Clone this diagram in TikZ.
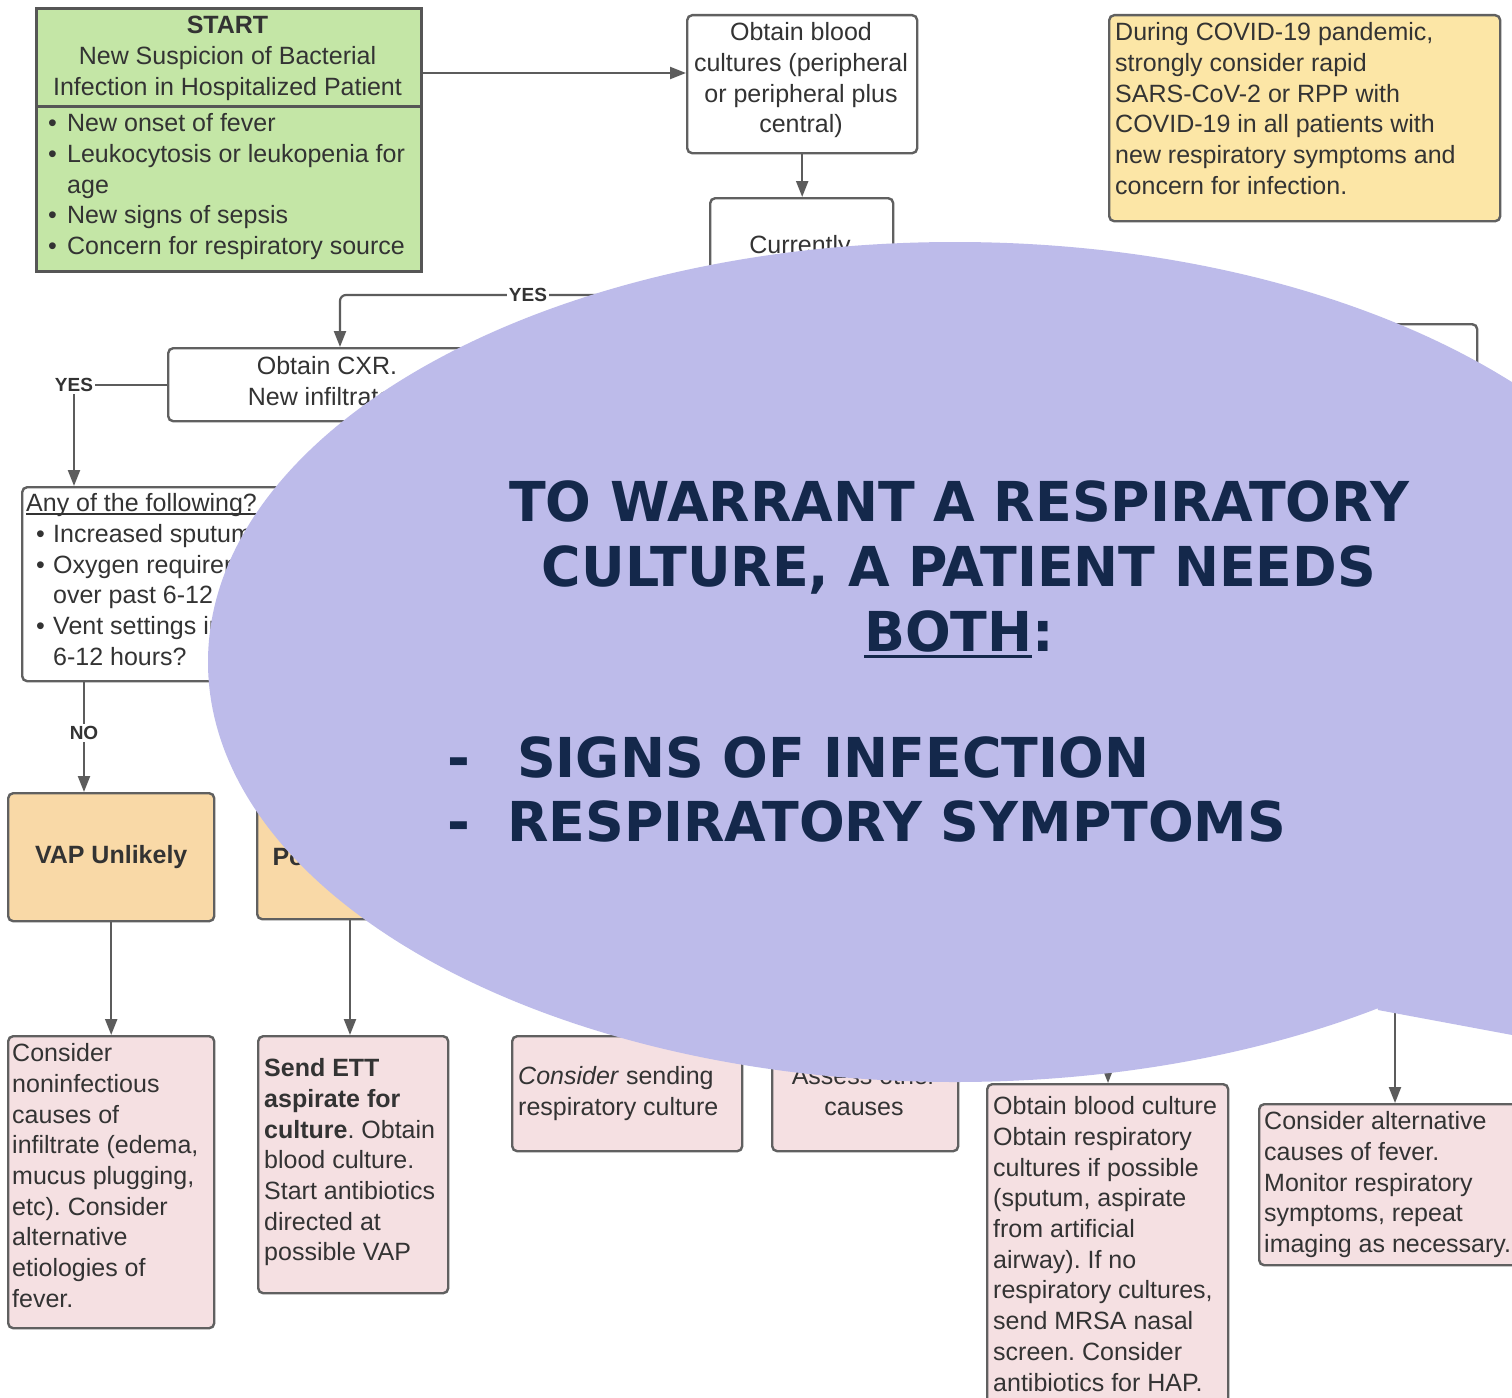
\documentclass[tikz,border=0pt]{standalone}
\usepackage{fontspec}
\setmainfont{Liberation Sans}
\newfontfamily\bubblefont{DejaVu Sans}
\usetikzlibrary{arrows.meta}
\definecolor{bordc}{HTML}{606060}
\definecolor{arrowc}{HTML}{5C5C5C}
\definecolor{txtc}{HTML}{333333}
\definecolor{greenfill}{HTML}{C4E6A6}
\definecolor{yellowfill}{HTML}{FCE6A6}
\definecolor{orangefill}{HTML}{F9D9A7}
\definecolor{pinkfill}{HTML}{F5E0E2}
\definecolor{bubblec}{HTML}{BDBBEA}
\definecolor{navyc}{HTML}{14284B}
\newcommand\myuline[3]{\setbox0\hbox{#3}\rlap{\rule[-#1]{\wd0}{#2}}\box0}
\newcommand\bulA{\makebox[19pt][l]{\textbullet}}
\newcommand\bulB{\makebox[17pt][l]{\textbullet}}
\newcommand\bsq[1]{\scalebox{0.978}[1]{#1}}
\frenchspacing
\begin{document}
\begin{tikzpicture}[x=1pt,y=-1pt,
  boxline/.style={draw=bordc, line width=2.4pt, rounded corners=5pt, inner sep=0pt, anchor=north west},
  body/.style={font=\fontsize{25}{30.7}\selectfont, text=txtc, inner sep=0pt, align=left, anchor=north west},
  bodyc/.style={body, align=center, anchor=north},
  bigbold/.style={font=\bfseries\fontsize{25}{30}\selectfont, text=txtc, inner sep=0pt},
  flow/.style={draw=arrowc, line width=2.2pt, -{Triangle[length=16pt,width=12pt]}},
  lbl/.style={font=\bfseries\fontsize{19}{19}\selectfont, text=txtc, fill=white, inner sep=2pt},
  bubtxt/.style={font=\bubblefont\bfseries\fontsize{55}{65}\selectfont, text=navyc, inner sep=0pt, anchor=base}
]
\useasboundingbox (0,0) rectangle (1512,1397);
\clip (0,0) rectangle (1512,1397);
\fill[white] (0,0) rectangle (1512,1397);

% ---------- boxes ----------
\node[boxline, rounded corners=0pt, draw=bordc!90!black, line width=3pt, fill=greenfill, minimum width=385pt, minimum height=263pt] (start) at (35,7) {};
\draw[draw=bordc!90!black, line width=3pt] (start.west |- 0,106) -- (start.east |- 0,106);
\node[boxline, fill=white, minimum width=230pt, minimum height=138pt] (blood) at (686,14) {};
\node[boxline, fill=yellowfill, minimum width=391pt, minimum height=206pt] (covid) at (1108,14) {};
\node[boxline, fill=white, minimum width=183pt, minimum height=148pt] (curr) at (709,197) {};
\node[boxline, fill=white, minimum width=320pt, minimum height=73pt] (cxr) at (167,347) {};
\node[boxline, fill=white, minimum width=186pt, minimum height=107pt] (rbox) at (1290,323) {};
\node[boxline, fill=white, minimum width=379pt, minimum height=194pt] (any) at (21,486) {};
\node[boxline, fill=orangefill, minimum width=206pt, minimum height=128pt] (vap) at (7,792) {};
\node[boxline, fill=orangefill, minimum width=190pt, minimum height=126pt] (pos) at (256,792) {};
\node[boxline, fill=pinkfill, minimum width=206pt, minimum height=292pt] (cons) at (7,1035) {};
\node[boxline, fill=pinkfill, minimum width=190pt, minimum height=257pt] (ett) at (257,1035) {};
\node[boxline, fill=pinkfill, minimum width=230pt, minimum height=115pt] (csend) at (511,1035) {};
\node[boxline, fill=pinkfill, minimum width=186pt, minimum height=115pt] (assess) at (771,1035) {};
\node[boxline, fill=pinkfill, minimum width=241pt, minimum height=340pt] (obc) at (986,1083) {};
\node[boxline, fill=pinkfill, minimum width=280pt, minimum height=161pt] (calt) at (1258,1103) {};

% ---------- texts ----------
\node[bodyc] (starthd) at (227.5,12) {\strut\textbf{START}\\New Suspicion of Bacterial\\Infection in Hospitalized Patient};
\node[body] (startbl) at (48,110) {\strut\bulA New onset of fever\\\bulA Leukocytosis or leukopenia for\\\hspace*{19pt}age\\\bulA New signs of sepsis\\\bulA Concern for respiratory source};
\node[bodyc] (bloodtx) at (801,19) {\strut Obtain blood\\cultures (peripheral\\or peripheral plus\\central)};
\node[body] (covtx) at (1115,19) {\strut During COVID-19 pandemic,\\strongly consider rapid\\SARS-CoV-2 or RPP with\\COVID-19 in all patients with\\new respiratory symptoms and\\concern for infection.};
\node[bodyc] (currtx) at (800,232) {\strut Currently};
\node[bodyc] (cxrtx) at (327,353) {\strut Obtain CXR.\\New infiltrate?};
\node[body] (anytx) at (26,490) {\strut\myuline{3pt}{1.5pt}{Any of the following?}\\\hspace*{10pt}\bulB Increased sputum production\\\hspace*{10pt}\bulB Oxygen requirement increased\\\hspace*{27pt}over past 6-12 hours\\\hspace*{10pt}\bulB Vent settings increased over past\\\hspace*{27pt}6-12 hours?};
\node[bigbold] (vaptx) at (vap.center) {VAP Unlikely};
\node[bigbold] (postx) at (pos.center) {Possible VAP};
\node[body] (constx) at (12,1040) {\strut Consider\\noninfectious\\causes of\\infiltrate (edema,\\mucus plugging,\\etc). Consider\\alternative\\etiologies of\\fever.};
\node[body] (etttx) at (264,1055) {\strut\textbf{Send ETT}\\\textbf{aspirate for}\\\textbf{culture}. Obtain\\blood culture.\\Start antibiotics\\directed at\\possible VAP};
\node[body] (csendtx) at (518,1063) {\strut\textit{Consider} sending\\respiratory culture};
\node[bodyc] (assesstx) at (864,1063) {\strut Assess other\\causes};
\node[body] (obctx) at (993,1093) {\strut Obtain blood culture\\Obtain respiratory\\cultures if possible\\(sputum, aspirate\\from artificial\\airway). If no\\respiratory cultures,\\send MRSA nasal\\screen. Consider\\antibiotics for HAP.};
\node[body] (calttx) at (1264,1108) {\strut Consider alternative\\causes of fever.\\Monitor respiratory\\symptoms, repeat\\imaging as necessary.};

% ---------- connectors ----------
\coordinate (a1) at (420,73);
\coordinate (yes1) at (340,295);
\coordinate (yes2) at (74,385);
\coordinate (no1) at (84,733);
\coordinate (h1) at (1108,1000);
\coordinate (h2) at (1395,960);
\draw[flow] (start.east |- a1) -- (blood.west |- a1);
\draw[flow] (blood.south) -- (curr.north -| blood.south);
\draw[flow, rounded corners=6pt] (curr.west |- yes1) -| (cxr.north -| yes1);
\node[lbl] (yeslbl1) at (528,295) {YES};
\draw[flow] (cxr.west) -| (any.north -| yes2);
\node[lbl] (yeslbl2) at (yes2) {YES};
\draw[flow] (any.south -| no1) -- (vap.north -| no1);
\node[lbl] (nolbl) at (no1) {NO};
\draw[flow] (vap.south) -- (cons.north);
\draw[flow] (pos.south -| 350,0) -- (ett.north -| 350,0);
\draw[flow] (h1) -- (obc.north -| h1);
\draw[flow] (h2) -- (calt.north -| h2);

% ---------- speech bubble ----------
\fill[bubblec] (955,662) ellipse [x radius=747, y radius=420];
\fill[bubblec] (1300,662) -- (1378,1010) -- (1700,1070) -- (1700,662) -- cycle;

\node[bubtxt] (b1) at (959,521) {\bsq{TO WARRANT A RESPIRATORY}};
\node[bubtxt] (b2) at (959,586) {\bsq{CULTURE, A PATIENT NEEDS}};
\node[bubtxt] (b3) at (959,651) {\bsq{\myuline{7pt}{3pt}{BOTH}:}};
\node[bubtxt, anchor=base west] (d1) at (447,777) {-};
\node[bubtxt, anchor=base west] (s1) at (517,777) {\bsq{SIGNS OF INFECTION}};
\node[bubtxt, anchor=base west] (d2) at (447,841) {-};
\node[bubtxt, anchor=base west] (s2) at (507,841) {\bsq{RESPIRATORY SYMPTOMS}};
\end{tikzpicture}
\end{document}
